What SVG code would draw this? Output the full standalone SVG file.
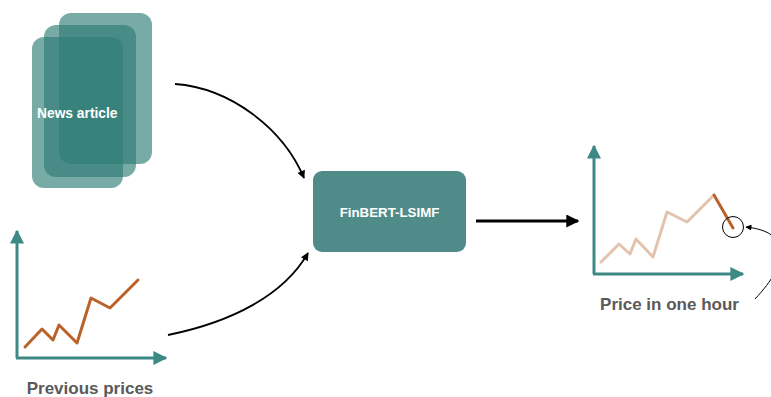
<svg xmlns="http://www.w3.org/2000/svg" width="771" height="397" viewBox="0 0 771 397">
  <style>
    .card { fill: #2f7d77; fill-opacity: 0.65; }
    .box { fill: #4f8c89; }
    .lbl-in { font-family: "Liberation Sans", Arial, sans-serif; font-weight: bold; font-size: 13.3px; fill: #ffffff; }
    .lbl-out { font-family: "Liberation Sans", Arial, sans-serif; font-weight: bold; font-size: 17px; fill: #5a5a5a; }
    .axis { stroke: #3d8985; stroke-width: 3; fill: none; }
    .price { stroke: #b9622a; stroke-width: 3; fill: none; stroke-linejoin: round; stroke-linecap: round; }
    .price-past { stroke: #b9622a; stroke-opacity: 0.38; stroke-width: 3; fill: none; stroke-linejoin: round; stroke-linecap: round; }
    .flow { stroke: #000; stroke-width: 1.8; fill: none; }
    .flow-main { stroke: #000; stroke-width: 3; fill: none; }
    .thin { stroke: #000; stroke-width: 1; fill: none; }
  </style>
  <defs>
    <marker id="head" viewBox="0 0 10 10" refX="9" refY="5" markerWidth="9" markerHeight="8" markerUnits="userSpaceOnUse" orient="auto">
      <path d="M0,0 L10,5 L0,10 Z" fill="#000"/>
    </marker>
    <marker id="head-main" viewBox="0 0 10 10" refX="9" refY="5" markerWidth="13" markerHeight="13" markerUnits="userSpaceOnUse" orient="auto">
      <path d="M0,0 L10,5 L0,10 Z" fill="#000"/>
    </marker>
    <marker id="head-small" viewBox="0 0 10 10" refX="9" refY="5" markerWidth="7" markerHeight="6" markerUnits="userSpaceOnUse" orient="auto">
      <path d="M0,0 L10,5 L0,10 Z" fill="#000"/>
    </marker>
    <marker id="axis-head" viewBox="0 0 10 10" refX="9" refY="5" markerWidth="14" markerHeight="14" markerUnits="userSpaceOnUse" orient="auto">
      <path d="M0,0 L10,5 L0,10 Z" fill="#3d8985"/>
    </marker>
  </defs>

  <!-- stacked news cards -->
  <g id="news-article">
    <rect class="card" x="59" y="13" width="93" height="151" rx="12"/>
    <rect class="card" x="44" y="25" width="92" height="152" rx="12"/>
    <rect class="card" x="32" y="37" width="91" height="151" rx="12"/>
    <text class="lbl-in" x="37" y="117.5" style="font-size:13.8px">News article</text>
  </g>

  <!-- model block -->
  <g id="finbert-lsimf">
    <rect class="box" x="313" y="171" width="153" height="81" rx="9"/>
    <text class="lbl-in" x="389.5" y="216.5" text-anchor="middle">FinBERT-LSIMF</text>
  </g>

  <!-- input price history -->
  <g id="previous-prices">
    <path class="axis" d="M17,358 V231" marker-end="url(#axis-head)"/>
    <path class="axis" d="M16,358 H166" marker-end="url(#axis-head)"/>
    <polyline class="price" points="25,347 42,329 53,340 59,325 77,343 91,298 110,308 138,280"/>
    <text class="lbl-out" x="90" y="394" text-anchor="middle">Previous prices</text>
  </g>

  <!-- predicted price -->
  <g id="price-in-one-hour">
    <path class="axis" d="M594,274 V146" marker-end="url(#axis-head)"/>
    <path class="axis" d="M593,274 H743" marker-end="url(#axis-head)"/>
    <polyline class="price-past" points="601,262 619,244 630,254 636,239 653,257 667,212 687,222 714,195"/>
    <line class="price" x1="714" y1="195" x2="733" y2="228"/>
    <circle class="thin" cx="733" cy="227" r="10.5"/>
    <text class="lbl-out" x="669.5" y="310" text-anchor="middle">Price in one hour</text>
  </g>

  <!-- connectors -->
  <g id="connectors">
    <path class="flow" d="M175,84 C230,88 283,128 304,178" marker-end="url(#head)"/>
    <path class="flow" d="M168,335 C232,322 284,295 308,253" marker-end="url(#head)"/>
    <path class="flow-main" d="M476,221 H578" marker-end="url(#head-main)"/>
    <path class="thin" d="M755,299 C790,262 792,232 746,227" marker-end="url(#head-small)"/>
  </g>
</svg>
